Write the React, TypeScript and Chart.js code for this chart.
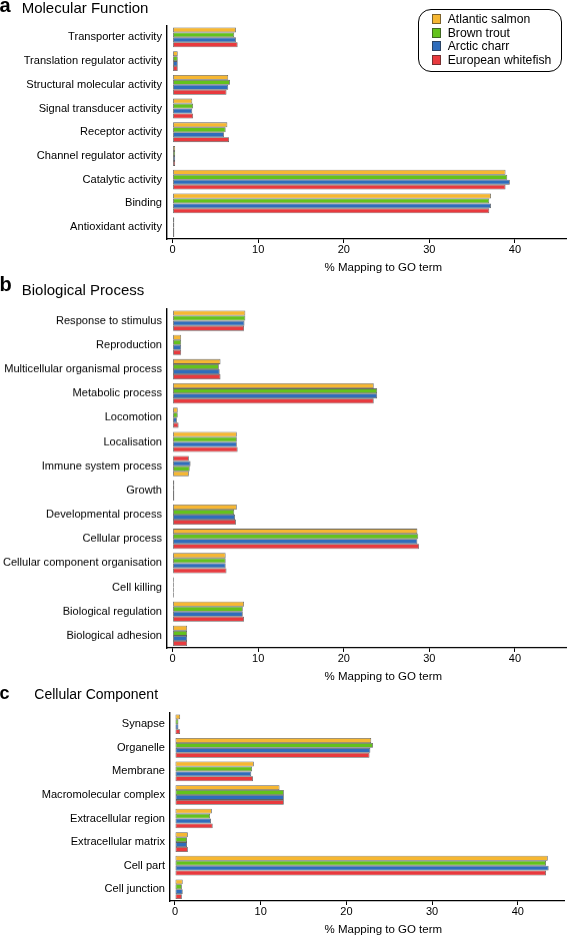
import React, { useEffect, useRef } from "react";
import { Chart, registerables } from "chart.js";

Chart.register(...registerables);

const FONT = "'Liberation Sans', Arial, Helvetica, sans-serif";

// ---------- data ----------
const species = ["Atlantic salmon", "Brown trout", "Arctic charr", "European whitefish"];
const speciesColors = ["#F6B732", "#63C21C", "#2F6DBB", "#E83A3E"];

const xTicks = [0, 10, 20, 30, 40];
const xAxisTitle = "% Mapping to GO term";

const mfCategories = [
  "Transporter activity",
  "Translation regulator activity",
  "Structural molecular activity",
  "Signal transducer activity",
  "Receptor activity",
  "Channel regulator activity",
  "Catalytic activity",
  "Binding",
  "Antioxidant activity",
];
const mfSalmon = [7.4, 0.6, 6.5, 2.3, 6.4, 0.3, 38.9, 37.2, 0.2];
const mfTrout = [7.2, 0.6, 6.7, 2.4, 6.2, 0.3, 39.1, 37.0, 0.2];
const mfCharr = [7.4, 0.6, 6.5, 2.3, 6.0, 0.3, 39.4, 37.2, 0.2];
const mfWhitefish = [7.6, 0.6, 6.3, 2.4, 6.6, 0.3, 38.9, 37.0, 0.2];

const bpCategories = [
  "Response to stimulus",
  "Reproduction",
  "Multicellular organismal process",
  "Metabolic process",
  "Locomotion",
  "Localisation",
  "Immune system process",
  "Growth",
  "Developmental process",
  "Cellular process",
  "Cellular component organisation",
  "Cell killing",
  "Biological regulation",
  "Biological adhesion",
];
const bpSalmon = [8.5, 1.0, 5.6, 23.5, 0.6, 7.5, 1.9, 0.2, 7.5, 28.6, 6.2, 0.15, 8.35, 1.7];
const bpTrout = [8.5, 1.0, 5.4, 23.9, 0.6, 7.5, 2.0, 0.2, 7.2, 28.7, 6.2, 0.15, 8.2, 1.7];
const bpCharr = [8.4, 1.0, 5.5, 23.9, 0.5, 7.5, 2.1, 0.2, 7.3, 28.6, 6.2, 0.15, 8.2, 1.7];
const bpWhitefish = [8.35, 1.0, 5.6, 23.5, 0.7, 7.6, 1.9, 0.2, 7.4, 28.8, 6.3, 0.15, 8.35, 1.7];
// categories whose bars appear in reverse species order in the figure
const bpReversed = ["Immune system process"];

const ccCategories = [
  "Synapse",
  "Organelle",
  "Membrane",
  "Macromolecular complex",
  "Extracellular region",
  "Extracellular matrix",
  "Cell part",
  "Cell junction",
];
const ccSalmon = [0.6, 22.9, 9.2, 12.2, 4.3, 1.5, 43.5, 0.9];
const ccTrout = [0.4, 23.1, 9.0, 12.7, 4.1, 1.4, 43.3, 0.8];
const ccCharr = [0.4, 22.8, 8.9, 12.7, 4.2, 1.4, 43.6, 0.9];
const ccWhitefish = [0.6, 22.7, 9.1, 12.7, 4.4, 1.5, 43.3, 0.8];

// ---------- layout ----------
type PanelDef = {
  letter: string;
  title: string;
  categories: string[];
  series: number[][];
  reversed: string[];
  top: number;
  areaTop: number;
  areaBottom: number;
  yWidth: number;
  min: number;
  max: number;
  padRight: number;
  letterSize: number;
  letterBaseline: number;
  titleSize: number;
  titleX: number;
  titleBaseline: number;
  axisTitleOffset: number;
};

const X_AXIS_H = 37;
const AXIS_TITLE_X = 383.3;

const panels: PanelDef[] = [
  {
    letter: "a",
    title: "Molecular Function",
    categories: mfCategories,
    series: [mfSalmon, mfTrout, mfCharr, mfWhitefish],
    reversed: [],
    top: 0,
    areaTop: 25.5,
    areaBottom: 239,
    yWidth: 166.5,
    min: -0.71,
    max: 46,
    padRight: 0.7,
    letterSize: 20,
    letterBaseline: 11.7,
    titleSize: 15,
    titleX: 21.7,
    titleBaseline: 13.3,
    axisTitleOffset: 31.7,
  },
  {
    letter: "b",
    title: "Biological Process",
    categories: bpCategories,
    series: [bpSalmon, bpTrout, bpCharr, bpWhitefish],
    reversed: bpReversed,
    top: 276,
    areaTop: 308.5,
    areaBottom: 647.5,
    yWidth: 166.5,
    min: -0.71,
    max: 46,
    padRight: 0.7,
    letterSize: 20,
    letterBaseline: 291.3,
    titleSize: 15,
    titleX: 21.7,
    titleBaseline: 295.3,
    axisTitleOffset: 32,
  },
  {
    letter: "c",
    title: "Cellular Component",
    categories: ccCategories,
    series: [ccSalmon, ccTrout, ccCharr, ccWhitefish],
    reversed: [],
    top: 680,
    areaTop: 712.5,
    areaBottom: 901,
    yWidth: 169.5,
    min: -0.64,
    max: 45.5,
    padRight: 2.1,
    letterSize: 18,
    letterBaseline: 699.3,
    titleSize: 14,
    titleX: 34.3,
    titleBaseline: 699.3,
    axisTitleOffset: 32.3,
  },
];

function Panel({ p }: { p: PanelDef }) {
  const ref = useRef<HTMLCanvasElement>(null);
  const height = p.areaBottom - p.top + X_AXIS_H;

  useEffect(() => {
    if (!ref.current) return;
    const datasets = [0, 1, 2, 3].map((slot) => {
      const idx = p.categories.map((c) => (p.reversed.includes(c) ? 3 - slot : slot));
      return {
        label: `slot ${slot}`,
        data: p.categories.map((_, i) => p.series[idx[i]][i]),
        backgroundColor: idx.map((k) => speciesColors[k]),
        borderColor: "rgba(40,40,40,0.75)",
        borderWidth: 0.8,
        borderSkipped: false as const,
        categoryPercentage: 0.835,
        barPercentage: 1,
      };
    });

    const textPlugin = {
      id: "panelText",
      afterDraw(chart: any) {
        const ctx = chart.ctx as CanvasRenderingContext2D;
        ctx.save();
        ctx.fillStyle = "#000";
        ctx.textBaseline = "alphabetic";
        ctx.textAlign = "left";
        ctx.font = `bold ${p.letterSize}px ${FONT}`;
        ctx.fillText(p.letter, -0.5, p.letterBaseline - p.top);
        ctx.font = `${p.titleSize}px ${FONT}`;
        ctx.fillText(p.title, p.titleX, p.titleBaseline - p.top);
        ctx.font = `11.5px ${FONT}`;
        ctx.textAlign = "center";
        ctx.fillText(xAxisTitle, AXIS_TITLE_X, chart.chartArea.bottom + p.axisTitleOffset);
        ctx.restore();
      },
    };

    const chart = new Chart(ref.current, {
      type: "bar",
      data: { labels: p.categories, datasets },
      options: {
        indexAxis: "y",
        animation: false,
        responsive: false,
        maintainAspectRatio: false,
        devicePixelRatio: 1,
        layout: { padding: { top: p.areaTop - p.top, right: p.padRight, bottom: 0, left: 0 } },
        plugins: {
          legend: { display: false },
          tooltip: { enabled: false },
          title: { display: false },
        },
        scales: {
          x: {
            type: "linear",
            min: p.min,
            max: p.max,
            afterBuildTicks: (axis: any) => {
              axis.ticks = xTicks.map((v) => ({ value: v }));
            },
            afterFit: (scale: any) => {
              scale.height = X_AXIS_H;
            },
            grid: {
              display: true,
              drawOnChartArea: false,
              drawTicks: true,
              tickLength: 4,
              tickColor: "#000",
              tickWidth: 1,
            },
            border: { display: true, color: "#000", width: 1.3 },
            ticks: {
              color: "#000",
              font: { family: FONT, size: 11 },
              padding: 0.5,
              maxRotation: 0,
              autoSkip: false,
            },
          },
          y: {
            type: "category",
            afterFit: (scale: any) => {
              scale.width = p.yWidth;
            },
            grid: { display: false, drawTicks: false },
            border: { display: true, color: "#000", width: 1.4 },
            ticks: {
              color: "#000",
              font: { family: FONT, size: 11.1 },
              padding: 4.5,
              autoSkip: false,
            },
          },
        },
      },
      plugins: [textPlugin],
    } as any);
    return () => chart.destroy();
  }, []);

  return (
    <canvas
      ref={ref}
      width={567}
      height={height}
      style={{ position: "absolute", left: 0, top: p.top, width: 567, height }}
    />
  );
}

function Legend() {
  const rows = species.map((s, i) => ({ s, c: speciesColors[i], y: 19 + i * 13.7 }));
  return (
    <>
      <div
        style={{
          position: "absolute",
          left: 418.3,
          top: 9.3,
          width: 143.4,
          height: 62.4,
          border: "1.3px solid #000",
          borderRadius: 13,
          boxSizing: "border-box",
          background: "#fff",
        }}
      />
      {rows.map((r) => (
        <React.Fragment key={r.s}>
          <div
            style={{
              position: "absolute",
              left: 431.5,
              top: r.y - 5,
              width: 9,
              height: 10,
              background: r.c,
              boxSizing: "border-box",
              border: "0.8px solid rgba(40,40,40,0.6)",
            }}
          />
          <div
            style={{
              position: "absolute",
              left: 447.7,
              top: r.y - 7,
              height: 14,
              lineHeight: "14px",
              fontFamily: FONT,
              fontSize: 12.2,
              color: "#000",
              whiteSpace: "nowrap",
            }}
          >
            {r.s}
          </div>
        </React.Fragment>
      ))}
    </>
  );
}

export default function App() {
  return (
    <div
      style={{
        position: "absolute",
        left: 0,
        top: 0,
        width: 567,
        height: 936,
        background: "#fff",
        overflow: "hidden",
      }}
    >
      {panels.map((p) => (
        <Panel key={p.letter} p={p} />
      ))}
      <Legend />
    </div>
  );
}
